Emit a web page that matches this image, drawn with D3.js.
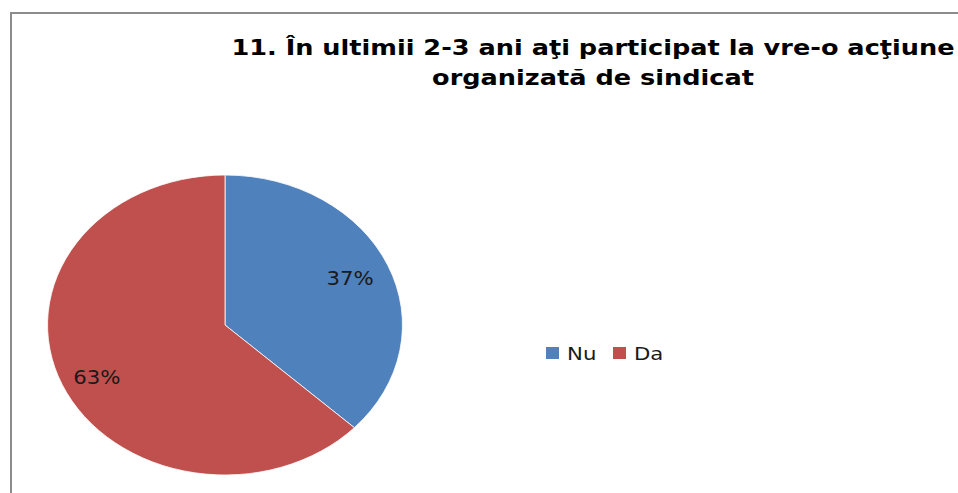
<!DOCTYPE html>
<html>
<head>
<meta charset="utf-8">
<script src="https://cdn.jsdelivr.net/npm/d3@7"></script>
<style>
  body { margin: 0; background: #fff; }
  svg { display: block; font-family: "DejaVu Sans", Verdana, sans-serif; }
</style>
</head>
<body>
<div id="vis"></div>
<script>
const FRAME_WIDTH = 958;
const FRAME_HEIGHT = 493;

// data
const categories = ["Nu", "Da"];
const values = [37, 63];
const colors = ["#4F81BD", "#C0504D"];
const titleLines = ["11. În ultimii 2-3 ani aţi participat la vre-o acţiune",
                    "organizată de sindicat"];

// picture is stretched horizontally
const STRETCH = 1.183;
const CX = 225, CY = 325, R = 150;

const svg = d3.select("#vis")
  .append("svg")
    .attr("width", FRAME_WIDTH)
    .attr("height", FRAME_HEIGHT);

svg.append("rect")
    .attr("width", FRAME_WIDTH)
    .attr("height", FRAME_HEIGHT)
    .attr("fill", "#fff");

// chart border (only left and top visible)
svg.append("path")
    .attr("d", "M11," + FRAME_HEIGHT + "V13H" + FRAME_WIDTH)
    .attr("fill", "none")
    .attr("stroke", "#8c8c8c")
    .attr("stroke-width", 2);

// title
titleLines.forEach((t, i) => {
  svg.append("g")
      .attr("transform", "translate(593," + (55 + i * 30) + ") scale(1.163,1)")
    .append("text")
      .attr("text-anchor", "middle")
      .attr("font-weight", "bold")
      .attr("font-size", "22px")
      .attr("fill", "#000")
      .text(t);
});

const pie = d3.pie().sort(null).value(d => d);
const arcs = pie(values);
const arc = d3.arc().innerRadius(0).outerRadius(R);
const labelArc = d3.arc().innerRadius(118).outerRadius(118);

svg.append("g")
    .attr("transform", "translate(" + CX + "," + CY + ") scale(" + STRETCH + ",1)")
  .selectAll("path")
  .data(arcs)
  .enter()
  .append("path")
    .attr("d", arc)
    .attr("fill", (d, i) => colors[i])
    .attr("stroke", "#fff")
    .attr("stroke-width", 0.8)
    .attr("vector-effect", "non-scaling-stroke");

// percentage labels
const total = d3.sum(values);
arcs.forEach((d, i) => {
  const c = labelArc.centroid(d);
  svg.append("g")
      .attr("transform", "translate(" + (CX + c[0] * STRETCH - (i === 0 ? 3 : 0)) + "," + (CY + c[1] + (i === 1 ? 5 : 0)) + ") scale(1.12,1)")
    .append("text")
      .attr("text-anchor", "middle")
      .attr("dy", "0.35em")
      .attr("font-size", "19px")
      .attr("fill", "#1a1a1a")
      .text(Math.round(d.value / total * 100) + "%");
});

// legend
const legendX = d3.scaleOrdinal().domain(categories).range([546, 613]);
const legend = svg.selectAll(".legend")
  .data(categories)
  .enter()
  .append("g")
    .attr("class", "legend")
    .attr("transform", d => "translate(" + legendX(d) + ",347)");

legend.append("rect")
    .attr("width", 13)
    .attr("height", 12)
    .attr("fill", (d, i) => colors[i]);

legend.append("g")
    .attr("transform", "translate(21,12.5) scale(1.25,1)")
  .append("text")
    .attr("font-size", "17px")
    .attr("fill", "#1a1a1a")
    .text(d => d);
</script>
</body>
</html>
